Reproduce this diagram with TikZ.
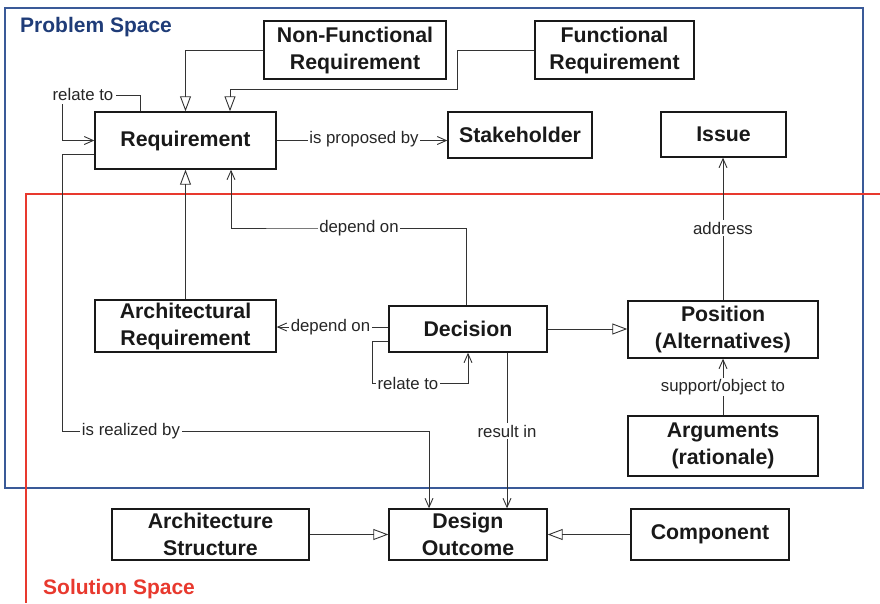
\documentclass[tikz,border=0pt]{standalone}
\usepackage{fontspec}
\setmainfont{Liberation Sans}
\usetikzlibrary{arrows.meta,calc}
\definecolor{pblue}{HTML}{3A5A98}
\definecolor{ptitle}{HTML}{1F3C78}
\definecolor{sred}{HTML}{E8392E}
\begin{document}
\begin{tikzpicture}[x=1pt,y=-1pt,
 box/.style={draw=black!90, line width=1.4pt, fill=white, align=center, font=\bfseries\fontsize{21.3}{27}\selectfont, inner sep=0pt, text=black!90},
 lbl/.style={fill=white, inner sep=1.5pt, font=\fontsize{16.8}{20}\selectfont, text=black!85},
 con/.style={line width=0.9pt, draw=black!80},
 gen/.style={con, -{Triangle[open,length=15pt,width=11pt]}},
 assoc/.style={con, -{Straight Barb[length=9pt,width=8pt]}}]
\useasboundingbox (0,0) rectangle (880,603);
% frames
\draw[pblue, line width=1.3pt] (5,8) rectangle (863,488);
\draw[sred, line width=1.2pt] (26,603) -- (26,194) -- (880,194);
\node[anchor=west, text=ptitle, font=\bfseries\fontsize{21}{24}\selectfont, inner sep=0pt] (ps) at (20,27.5) {Problem Space};
\node[anchor=west, text=sred, font=\bfseries\fontsize{21}{24}\selectfont, inner sep=0pt] (ss) at (43,589.5) {Solution Space};
% nodes
\node[box, minimum width=182pt, minimum height=58pt] (NF) at (355,50) {Non-Functional\\Requirement};
\node[box, minimum width=159pt, minimum height=58pt] (FR) at (614.5,50) {Functional\\Requirement};
\node[box, minimum width=181pt, minimum height=57pt] (Req) at (185.5,140.5) {Requirement};
\node[box, minimum width=144pt, minimum height=46pt] (Stake) at (520,135) {Stakeholder};
\node[box, minimum width=125pt, minimum height=45pt] (Issue) at (723.5,134.5) {Issue};
\node[box, minimum width=181pt, minimum height=52pt] (AR) at (185.5,326) {Architectural\\Requirement};
\node[box, minimum width=158pt, minimum height=46pt] (Dec) at (468,329) {Decision};
\node[box, minimum width=190pt, minimum height=57pt] (Pos) at (723,329.5) {Position\\(Alternatives)};
\node[box, minimum width=190pt, minimum height=60pt] (Arg) at (723,446) {Arguments\\(rationale)};
\node[box, minimum width=197pt, minimum height=51pt] (AS) at (210.5,534.5) {Architecture\\Structure};
\node[box, minimum width=158pt, minimum height=51pt] (DO) at (468,534.5) {Design\\Outcome};
\node[box, minimum width=158pt, minimum height=51pt] (Comp) at (710,534.5) {Component};
% connectors
\draw[gen] (NF.west) -| (Req.north);
\draw[gen] (FR.west) -| (457,89) -| ([xshift=44.5pt]Req.north);
\coordinate (r1) at (62,104);
\draw[con] ([xshift=-45.5pt]Req.north) |- (116,95);
\draw[assoc] (r1) |- (Req.west);
\node[lbl] (rel1) at (83,94) {relate to};
\draw[assoc] (Req.east) -- (Req.east -| Stake.west);
\node[lbl] (prop) at (364,139) {is proposed by};
\draw[gen] (AR.north) -- (Req.south);
\draw[assoc] ([xshift=-2pt]Dec.north) |- (300,228) -| ([xshift=45.5pt]Req.south);
\node[lbl] (dep1) at (359,228) {depend on};
\draw[assoc] ([yshift=2pt]Dec.west) -- ([yshift=2pt]Dec.west -| AR.east);
\node[lbl] (dep2) at (330.5,327) {depend on};
\draw[assoc] ([yshift=-12pt]Dec.west) -| (372,383) -| (Dec.south);
\node[lbl] (rel2) at (408,383) {relate to};
\draw[gen] (Dec.east) -- (Dec.east -| Pos.west);
\draw[assoc] (Pos.north) -- (Pos.north |- Issue.south);
\node[lbl] (addr) at (723,228) {address};
\draw[assoc] (Arg.north) -- (Pos.south);
\node[lbl] (supp) at (723,387) {support/object to};
\draw[assoc] ([yshift=-13.5pt]Req.west) -| (62,431) -| ([xshift=-39pt]DO.north);
\node[lbl] (real) at (131,431) {is realized by};
\draw[assoc] ([xshift=39pt]Dec.south) -- ([xshift=39pt]DO.north);
\node[lbl] (res) at (507,431) {result in};
\draw[gen] (AS.east) -- (DO.west);
\draw[gen] (Comp.west) -- (DO.east);
\end{tikzpicture}
\end{document}
